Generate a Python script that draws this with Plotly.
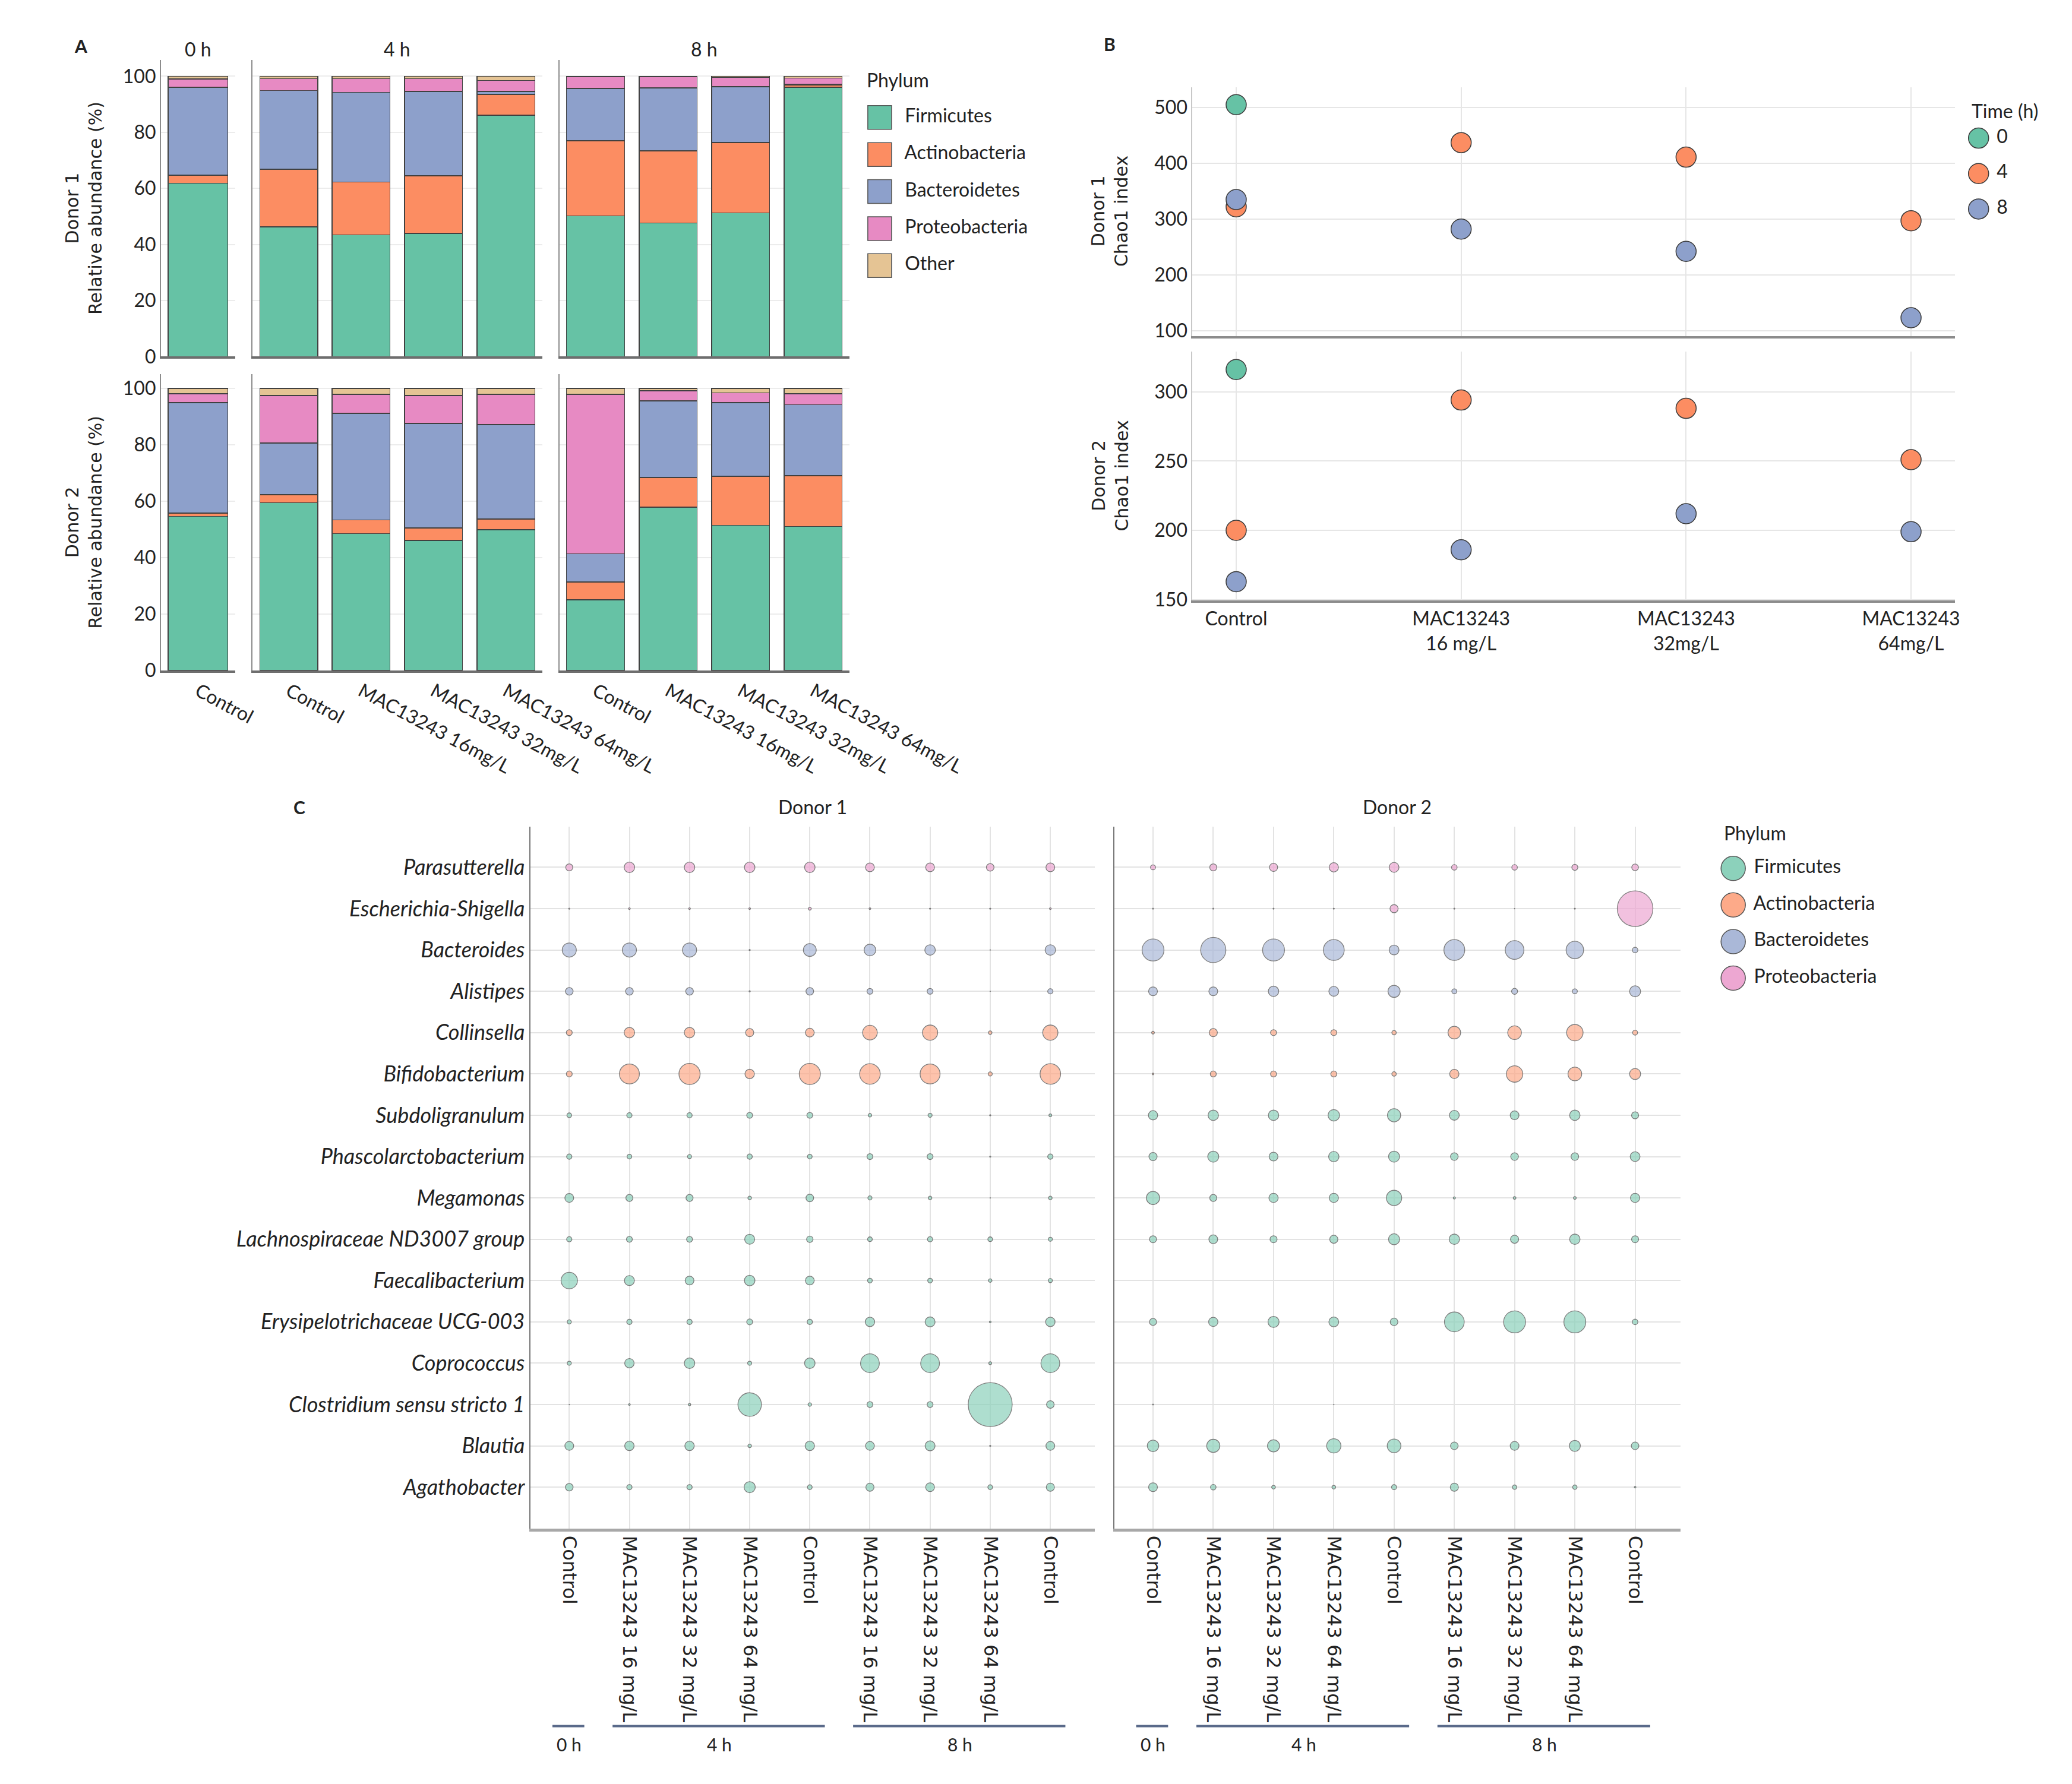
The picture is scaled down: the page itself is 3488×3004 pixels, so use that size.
import plotly.graph_objects as go

# layout is expressed in the reference picture's pixel frame; the page itself is a bit wider
REF_W, H = 3488, 3004
W = 3687


def px(v):
    return v / REF_W


def py(v):
    return 1 - v / H


# ----------------------------- DATA -----------------------------
PHYLA = ["Firmicutes", "Actinobacteria", "Bacteroidetes", "Proteobacteria", "Other"]
DONORS = ["Donor 1", "Donor 2"]

A_TIME_GROUPS = ["0 h", "4 h", "8 h"]
A_SAMPLES_0H = ["Control"]
A_SAMPLES_4H = ["Control", "MAC13243 16mg/L", "MAC13243 32mg/L", "MAC13243 64mg/L"]
A_SAMPLES_8H = ["Control", "MAC13243 16mg/L", "MAC13243 32mg/L", "MAC13243 64mg/L"]

# Relative abundance (%), order: 0h Ctrl | 4h Ctrl,16,32,64 | 8h Ctrl,16,32,64
d1_firmicutes = [61.8, 46.3, 43.4, 43.9, 86.1, 50.2, 47.6, 51.2, 96.0]
d1_actinobacteria = [2.9, 20.5, 18.9, 20.6, 7.4, 26.8, 25.8, 25.1, 0.9]
d1_bacteroidetes = [31.3, 28.1, 31.9, 30.1, 1.1, 18.6, 22.4, 20.0, 0.3]
d1_proteobacteria = [3.0, 4.2, 4.9, 4.5, 3.9, 4.2, 3.9, 3.2, 2.1]
d1_other = [1.0, 0.9, 0.9, 0.9, 1.5, 0.2, 0.3, 0.5, 0.7]

d2_firmicutes = [54.6, 59.5, 48.5, 46.1, 49.9, 25.1, 57.9, 51.5, 51.1]
d2_actinobacteria = [1.2, 2.8, 4.9, 4.4, 3.8, 6.3, 10.5, 17.4, 18.0]
d2_bacteroidetes = [39.1, 18.3, 37.8, 37.1, 33.5, 10.0, 27.2, 26.0, 25.1]
d2_proteobacteria = [3.2, 16.9, 6.7, 9.9, 10.7, 56.5, 3.5, 3.5, 3.9]
d2_other = [1.9, 2.5, 2.1, 2.5, 2.1, 2.1, 0.9, 1.6, 1.9]

# Panel B: Chao1 index
B_CATEGORIES = ["Control", "MAC13243<br>16 mg/L", "MAC13243<br>32mg/L", "MAC13243<br>64mg/L"]
B_TIMES = ["0", "4", "8"]
b_d1_t0 = [505, None, None, None]
b_d1_t4 = [322, 437, 411, 297]
b_d1_t8 = [335, 282, 242, 123]
b_d2_t0 = [316, None, None, None]
b_d2_t4 = [200, 294, 288, 251]
b_d2_t8 = [163, 186, 212, 199]

# Panel C: genus-level relative abundance (%)
C_SAMPLES = ["Control", "MAC13243 16 mg/L", "MAC13243 32 mg/L", "MAC13243 64 mg/L", "Control",
             "MAC13243 16 mg/L", "MAC13243 32 mg/L", "MAC13243 64 mg/L", "Control"]
C_SAMPLE_TIMES = ["0 h", "4 h", "4 h", "4 h", "4 h", "8 h", "8 h", "8 h", "8 h"]
GENERA = ["Parasutterella", "Escherichia-Shigella", "Bacteroides", "Alistipes", "Collinsella",
          "Bifidobacterium", "Subdoligranulum", "Phascolarctobacterium", "Megamonas",
          "Lachnospiraceae ND3007 group", "Faecalibacterium", "Erysipelotrichaceae UCG-003",
          "Coprococcus", "Clostridium sensu stricto 1", "Blautia", "Agathobacter"]
GENUS_PHYLUM = ["Proteobacteria", "Proteobacteria", "Bacteroidetes", "Bacteroidetes",
                "Actinobacteria", "Actinobacteria", "Firmicutes", "Firmicutes", "Firmicutes",
                "Firmicutes", "Firmicutes", "Firmicutes", "Firmicutes", "Firmicutes",
                "Firmicutes", "Firmicutes"]

c_d1 = [
    [1.8, 4.0, 4.0, 4.0, 4.0, 2.8, 2.8, 2.1, 2.8],
    [0.05, 0.11, 0.11, 0.11, 0.31, 0.11, 0.05, 0.05, 0.11],
    [7.2, 7.2, 7.2, 0.05, 6.0, 5.0, 4.0, 0.01, 4.0],
    [2.1, 2.1, 2.1, 0.05, 2.1, 1.25, 1.25, 0.01, 1.0],
    [1.25, 4.0, 4.0, 2.4, 2.8, 7.8, 8.4, 0.45, 8.4],
    [1.25, 14.4, 16.2, 3.2, 16.2, 15.3, 14.4, 0.6, 15.3],
    [0.8, 1.0, 1.0, 1.25, 1.25, 0.45, 0.6, 0.05, 0.3],
    [1.0, 0.8, 0.6, 1.0, 0.8, 1.25, 1.25, 0.05, 1.0],
    [2.8, 1.8, 1.8, 0.45, 2.1, 0.6, 0.45, 0.01, 0.45],
    [1.0, 1.25, 1.25, 3.6, 1.5, 0.8, 1.0, 0.8, 0.6],
    [9.8, 3.6, 2.8, 4.0, 2.8, 0.8, 0.8, 0.45, 0.6],
    [0.6, 1.0, 1.0, 1.25, 1.0, 3.2, 3.6, 0.11, 3.2],
    [0.6, 3.2, 4.0, 0.6, 4.0, 12.8, 12.8, 0.31, 12.8],
    [0.01, 0.11, 0.2, 20.0, 0.45, 1.25, 1.25, 70.0, 2.1],
    [2.8, 3.2, 3.2, 0.45, 3.2, 2.8, 3.6, 0.05, 2.8],
    [2.1, 1.0, 1.0, 4.5, 0.8, 2.4, 2.8, 0.8, 2.4],
]
c_d2 = [
    [0.9, 1.8, 2.4, 3.1, 3.5, 1.1, 1.1, 1.3, 1.6],
    [0.04, 0.04, 0.04, 0.04, 2.4, 0.04, 0.01, 0.04, 46.0],
    [17.4, 23.0, 17.4, 15.7, 3.5, 15.7, 12.6, 11.1, 1.1],
    [2.8, 2.8, 3.9, 3.5, 5.3, 0.9, 1.3, 0.9, 4.4],
    [0.27, 2.4, 1.3, 1.3, 0.7, 5.8, 6.8, 9.8, 0.9],
    [0.1, 1.3, 1.3, 1.3, 0.7, 3.1, 9.8, 6.8, 4.4],
    [3.1, 3.9, 3.9, 4.8, 6.3, 3.5, 2.8, 3.9, 1.8],
    [2.4, 4.4, 2.8, 3.9, 4.4, 2.1, 2.1, 2.1, 3.5],
    [6.3, 1.8, 3.1, 3.1, 8.5, 0.17, 0.27, 0.27, 3.1],
    [1.8, 2.8, 1.8, 2.4, 4.4, 3.9, 2.4, 3.9, 1.8],
    [0, 0, 0, 0, 0, 0, 0, 0, 0],
    [1.8, 3.1, 4.4, 3.5, 2.1, 14.1, 17.4, 17.4, 1.1],
    [0, 0, 0, 0, 0, 0, 0, 0, 0],
    [0.04, 0, 0, 0.01, 0, 0, 0, 0, 0],
    [4.8, 6.3, 5.3, 7.4, 6.8, 2.1, 2.8, 4.4, 2.1],
    [2.8, 1.1, 0.5, 0.5, 0.9, 2.4, 0.7, 0.7, 0.1],
]

# ----------------------------- STYLE -----------------------------
BAR_COLORS = {"Firmicutes": "#66c2a5", "Actinobacteria": "#fc8d62", "Bacteroidetes": "#8da0cb",
              "Proteobacteria": "#e78ac3", "Other": "#e5c494"}
BUBBLE_COLORS = {"Firmicutes": "#8cd1bb", "Actinobacteria": "#fdaa89", "Bacteroidetes": "#aab8d8",
                 "Proteobacteria": "#eda7d2"}
TIME_COLORS = {"0": "#66c2a5", "4": "#fc8d62", "8": "#8da0cb"}
FONT = "Lato"
FONT2 = "DejaVu Sans"
TXT = "#222222"

A_DATA = {
    "Donor 1": dict(zip(PHYLA, [d1_firmicutes, d1_actinobacteria, d1_bacteroidetes, d1_proteobacteria, d1_other])),
    "Donor 2": dict(zip(PHYLA, [d2_firmicutes, d2_actinobacteria, d2_bacteroidetes, d2_proteobacteria, d2_other])),
}
A_GROUP_SAMPLES = [A_SAMPLES_0H, A_SAMPLES_4H, A_SAMPLES_8H]
B_DATA = {"Donor 1": [b_d1_t0, b_d1_t4, b_d1_t8], "Donor 2": [b_d2_t0, b_d2_t4, b_d2_t8]}
C_DATA = {"Donor 1": c_d1, "Donor 2": c_d2}

traces = []
layout = dict(width=W, height=H, autosize=False, margin=dict(l=0, r=0, t=0, b=0, pad=0),
              paper_bgcolor="white", plot_bgcolor="white", barmode="stack", showlegend=False,
              font=dict(family=FONT, size=32, color=TXT))
annotations = []
shapes = []


def axname(i):
    return ("x" if i == 1 else f"x{i}"), ("y" if i == 1 else f"y{i}")


def laykey(kind, i):
    return f"{kind}axis" if i == 1 else f"{kind}axis{i}"


def ann(text, x, y, size=32, family=FONT, xanchor="center", yanchor="middle", angle=0,
        xref="paper", yref="paper", bold=False):
    annotations.append(dict(text=f"<b>{text}</b>" if bold else text, x=x, y=y, xref=xref, yref=yref,
                            showarrow=False, xanchor=xanchor, yanchor=yanchor, textangle=angle,
                            font=dict(size=size, family=family, color=TXT)))


# ----------------------------- PANEL A -----------------------------
A_XDOM = [(270.5, 396), (425, 912), (941, 1429)]
A_YDOM = [(102, 604), (634, 1136)]
A_YMAX = [105.7, 105.0]
ax = 0
for r, donor in enumerate(DONORS):
    start = 0
    for g, samples in enumerate(A_GROUP_SAMPLES):
        ax += 1
        xs, ys = axname(ax)
        n = len(samples)
        for ph in PHYLA:
            traces.append(go.Bar(x=samples, y=A_DATA[donor][ph][start:start + n], xaxis=xs, yaxis=ys,
                                 width=0.8, name=ph,
                                 marker=dict(color=BAR_COLORS[ph], line=dict(color="#404040", width=1.5))))
        start += n
        x0, x1 = A_XDOM[g]
        y0, y1 = A_YDOM[r]
        layout[laykey("x", ax)] = dict(domain=[px(x0), px(x1)], anchor=ys, type="category",
                                       range=[-0.5, n - 0.5], showgrid=False, showline=True,
                                       linecolor="#6e6e6e", linewidth=4, ticks="",
                                       showticklabels=(r == 1), tickangle=28,
                                       tickfont=dict(size=32, family=FONT, color=TXT))
        layout[laykey("y", ax)] = dict(domain=[py(y1), py(y0)], anchor=xs, range=[0, A_YMAX[r]],
                                       tickvals=[0, 20, 40, 60, 80, 100], showticklabels=(g == 0),
                                       showgrid=True, gridcolor="#ececec", gridwidth=2, showline=True,
                                       linecolor="#8c8c8c", linewidth=1.5, zeroline=False, ticks="",
                                       tickfont=dict(size=32, family=FONT, color=TXT))
        if r == 0:
            ann(A_TIME_GROUPS[g], 0.5, py(83), xref=f"{xs} domain")
    yc = (A_YDOM[r][0] + A_YDOM[r][1]) / 2
    ann(f"{donor}<br>Relative abundance (%)", px(141), py(yc), size=30, family=FONT2, angle=-90)

# legend A, drawn on its own small axis
ax += 1
xs, ys = axname(ax)
legend_phyla = PHYLA
traces.append(go.Scatter(x=[0] * len(legend_phyla), y=legend_phyla, xaxis=xs, yaxis=ys,
                         mode="markers+text", text=["  " + p for p in legend_phyla],
                         textposition="middle right",
                         textfont=dict(size=32, family=FONT, color=TXT), cliponaxis=False,
                         marker=dict(symbol="square", size=40,
                                     color=[BAR_COLORS[p] for p in legend_phyla],
                                     line=dict(color="#555555", width=1.5))))
layout[laykey("x", ax)] = dict(domain=[px(1440), px(1840)], range=[-1, 9], visible=False, anchor=ys)
layout[laykey("y", ax)] = dict(domain=[py(481.4), py(167.6)], type="category", categoryorder="array",
                               categoryarray=legend_phyla, range=[len(legend_phyla) - 0.5, -0.5],
                               visible=False, anchor=xs)
ann("Phylum", px(1456), py(135), xanchor="left")
ann("A", px(136), py(77), size=30, bold=True)

# ----------------------------- PANEL B -----------------------------
B_YDOM = [(147.4, 569), (595.7, 1017)]
B_YRANGE = [[90.5, 536.7], [149.5, 328.9]]
B_TICKS = [[100, 200, 300, 400, 500], [150, 200, 250, 300]]
for r, donor in enumerate(DONORS):
    ax += 1
    xs, ys = axname(ax)
    for t, vals in zip(B_TIMES, B_DATA[donor]):
        traces.append(go.Scatter(x=B_CATEGORIES, y=vals, xaxis=xs, yaxis=ys, mode="markers",
                                 name=t, marker=dict(size=34, color=TIME_COLORS[t],
                                                     line=dict(color="#3a3a3a", width=1.5))))
    y0, y1 = B_YDOM[r]
    layout[laykey("x", ax)] = dict(domain=[px(2006), px(3289)], anchor=ys, type="category",
                                   categoryorder="array", categoryarray=B_CATEGORIES,
                                   range=[-0.195, 3.195], showgrid=True, gridcolor="#e6e6e6",
                                   gridwidth=2, showline=True, linecolor="#8c8c8c", linewidth=4,
                                   ticks="", showticklabels=(r == 1),
                                   tickfont=dict(size=32, family=FONT, color=TXT))
    layout[laykey("y", ax)] = dict(domain=[py(y1), py(y0)], anchor=xs, range=B_YRANGE[r],
                                   tickvals=B_TICKS[r], showgrid=True, gridcolor="#e6e6e6",
                                   gridwidth=2, showline=True, linecolor="#c8c8c8", linewidth=1.5,
                                   zeroline=False, ticks="", tickfont=dict(size=32, family=FONT, color=TXT))
    ann(f"{donor}<br>Chao1 index", px(1867), py((y0 + y1) / 2), size=30, family=FONT2, angle=-90)

ax += 1
xs, ys = axname(ax)
traces.append(go.Scatter(x=[0] * len(B_TIMES), y=B_TIMES, xaxis=xs, yaxis=ys, mode="markers+text",
                         text=[" " + t for t in B_TIMES], textposition="middle right", cliponaxis=False,
                         textfont=dict(size=32, family=FONT, color=TXT),
                         marker=dict(size=34, color=[TIME_COLORS[t] for t in B_TIMES],
                                     line=dict(color="#3a3a3a", width=1.5))))
layout[laykey("x", ax)] = dict(domain=[px(3289), 1.0], range=[-1, 4], visible=False, anchor=ys)
layout[laykey("y", ax)] = dict(domain=[py(384), py(204)], type="category", categoryorder="array",
                               categoryarray=B_TIMES, range=[2.5, -0.5], visible=False, anchor=xs)
ann("Time (h)", px(3315), py(188), xanchor="left")
ann("B", px(1867), py(74), size=30, bold=True)

# ----------------------------- PANEL C -----------------------------
C_XDOM = [(892, 1842), (1875, 2827)]
C_XRANGE = [[-0.65, 8.74], [-0.64, 8.75]]
max_val = max(max(max(row) for row in C_DATA[d]) for d in DONORS)
sizeref = 2.0 * max_val / (74 ** 2)
col_idx = list(range(len(C_SAMPLES)))
bubble_phyla = ["Firmicutes", "Actinobacteria", "Bacteroidetes", "Proteobacteria"]
for k, donor in enumerate(DONORS):
    ax += 1
    xs, ys = axname(ax)
    rows = C_DATA[donor]
    for ph in bubble_phyla:
        gx, gy, gs = [], [], []
        for gi, genus in enumerate(GENERA):
            if GENUS_PHYLUM[gi] != ph:
                continue
            for ci in col_idx:
                gx.append(ci)
                gy.append(genus)
                gs.append(rows[gi][ci])
        traces.append(go.Scatter(x=gx, y=gy, xaxis=xs, yaxis=ys, mode="markers", name=ph,
                                 marker=dict(size=gs, sizemode="area", sizeref=sizeref, sizemin=0,
                                             color=BUBBLE_COLORS[ph],
                                             line=dict(color="#4a4a4a", width=1.3))))
    x0, x1 = C_XDOM[k]
    layout[laykey("x", ax)] = dict(domain=[px(x0), px(x1)], anchor=ys, range=C_XRANGE[k],
                                   tickvals=col_idx, ticktext=C_SAMPLES, tickangle=90,
                                   tickfont=dict(size=32, family=FONT2, color=TXT), showgrid=True,
                                   gridcolor="#e3e3e3", gridwidth=2, showline=True,
                                   linecolor="#a8a8a8", linewidth=5, zeroline=False, ticks="")
    layout[laykey("y", ax)] = dict(domain=[py(2590), py(1400)], anchor=xs, type="category",
                                   categoryorder="array", categoryarray=GENERA,
                                   range=[len(GENERA) + 0.01, -0.99], showgrid=True,
                                   gridcolor="#e3e3e3", gridwidth=2, showline=True,
                                   linecolor="#777777", linewidth=2, ticks="",
                                   showticklabels=(k == 0),
                                   tickfont=dict(size=36, family=FONT, color=TXT, style="italic"))
    ann(donor, 0.5, py(1367), xref=f"{xs} domain")
    # time-group brackets under the sample labels
    groups = []
    for ci, tlab in enumerate(C_SAMPLE_TIMES):
        if groups and groups[-1][0] == tlab:
            groups[-1][1].append(ci)
        else:
            groups.append([tlab, [ci]])
    for tlab, idxs in groups:
        shapes.append(dict(type="line", xref=xs, yref="paper", x0=min(idxs) - 0.28,
                           x1=max(idxs) + 0.25, y0=py(2924), y1=py(2924),
                           line=dict(color="#5a6a8a", width=4)))
        ann(tlab, (min(idxs) + max(idxs)) / 2, py(2955), xref=xs, size=30)

ax += 1
xs, ys = axname(ax)
traces.append(go.Scatter(x=[0] * len(bubble_phyla), y=bubble_phyla, xaxis=xs, yaxis=ys,
                         mode="markers+text", text=[" " + p for p in bubble_phyla],
                         textposition="middle right",
                         cliponaxis=False, textfont=dict(size=32, family=FONT, color=TXT),
                         marker=dict(size=41, color=[BUBBLE_COLORS[p] for p in bubble_phyla],
                                     line=dict(color="#555555", width=1.5))))
layout[laykey("x", ax)] = dict(domain=[px(2876), px(3276)], range=[-1, 9], visible=False, anchor=ys)
layout[laykey("y", ax)] = dict(domain=[py(1688), py(1440)], type="category", categoryorder="array",
                               categoryarray=bubble_phyla, range=[3.5, -0.5], visible=False, anchor=xs)
ann("Phylum", px(2898), py(1411), xanchor="left")
ann("C", px(504), py(1367), size=30, bold=True)

layout["annotations"] = annotations
layout["shapes"] = shapes

fig = go.Figure(data=traces, layout=layout)
fig.update_traces(hoverinfo="skip")
fig.write_html("out.html", config={"responsive": False, "displayModeBar": False},
               post_script="document.body.style.margin='0';")
